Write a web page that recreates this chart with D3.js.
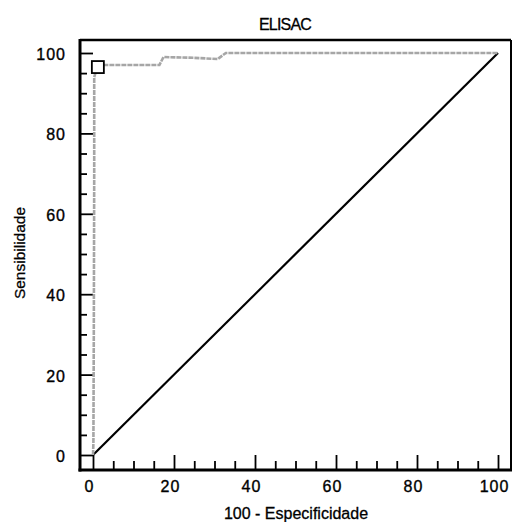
<!DOCTYPE html>
<html><head><meta charset="utf-8">
<script src="https://cdn.jsdelivr.net/npm/d3@7"></script>
<style>
body{margin:0;background:#fff;}
svg{display:block;font-family:"Liberation Sans",Arial,sans-serif;}
</style></head>
<body><svg id="c" width="514" height="522"></svg>
<script>
// ROC curve points (100 - Especificidade, Sensibilidade)
const rocFpr = [0, 0.1, 0.2, 0.3, 0.3, 1.2, 16.4, 17.4, 25, 30.8, 32.8, 60, 100];
const rocTpr = [0, 3, 30, 70, 94, 97, 97, 99, 98.8, 98.5, 100, 100, 100];
const criterion = {x: 1.2, y: 96.5};
const refLine = [[0,0],[100,100]];
const majorTicks = [0, 20, 40, 60, 80, 100];
const minorTicks = d3.range(0, 101, 5).filter(v => v % 20 !== 0);
const title = "ELISAC";
const xTitle = "100 - Especificidade";
const yTitle = "Sensibilidade";

const svg = d3.select("#c");
const x = d3.scaleLinear().domain([0,100]).range([93,498]);
const y = d3.scaleLinear().domain([0,100]).range([455,53]);
const L = 80, R = 511, T = 40, B = 470;
const FONT = "'Liberation Sans',Arial,sans-serif";

// frame
svg.append("line").attr("x1",L).attr("x2",R).attr("y1",T).attr("y2",T).attr("stroke","#000").attr("stroke-width",2.5);
svg.append("line").attr("x1",R).attr("x2",R).attr("y1",T).attr("y2",B).attr("stroke","#000").attr("stroke-width",2);

// axes
const gx = svg.append("g").attr("transform",`translate(0,${B})`);
gx.append("g").call(d3.axisBottom(x).tickValues(minorTicks).tickSize(-9).tickFormat(""))
  .call(g=>g.select(".domain").remove());
gx.append("g").call(d3.axisBottom(x).tickValues(majorTicks).tickSize(-15).tickPadding(11))
  .call(g=>g.select(".domain").remove());
gx.selectAll("line").attr("stroke","#000").attr("stroke-width",1.8);
gx.selectAll("text").attr("font-size","16px").attr("fill","#000").attr("dx","-4").attr("letter-spacing","1px")
  .attr("stroke","#000").attr("stroke-width",0.35).attr("font-family",FONT);

const gy = svg.append("g").attr("transform",`translate(${L},0)`);
gy.append("g").call(d3.axisLeft(y).tickValues(minorTicks).tickSize(-7).tickFormat(""))
  .call(g=>g.select(".domain").remove());
gy.append("g").call(d3.axisLeft(y).tickValues(majorTicks).tickSize(-13).tickPadding(14))
  .call(g=>g.select(".domain").remove());
gy.selectAll("line").attr("stroke","#000").attr("stroke-width",1.8);
gy.selectAll("text").attr("font-size","16px").attr("fill","#000").attr("dy","0.4em").attr("letter-spacing","1px")
  .attr("stroke","#000").attr("stroke-width",0.35).attr("font-family",FONT);

svg.append("line").attr("x1",L).attr("x2",L).attr("y1",T-1).attr("y2",B+1.5).attr("stroke","#000").attr("stroke-width",3);
svg.append("line").attr("x1",L-1.5).attr("x2",R+1).attr("y1",B).attr("y2",B).attr("stroke","#000").attr("stroke-width",3);

// reference diagonal
svg.append("path").datum(refLine)
  .attr("d", d3.line().x(d=>x(d[0])).y(d=>y(d[1])))
  .attr("fill","none").attr("stroke","#000").attr("stroke-width",2.2);

// ROC curve
const roc = rocFpr.map((v,i)=>[v, rocTpr[i]]);
svg.append("path").datum(roc)
  .attr("d", d3.line().x(d=>x(d[0])).y(d=>y(d[1])))
  .attr("fill","none").attr("stroke","#a6a6a6").attr("stroke-width",2.6)
  .attr("stroke-dasharray","5,1");

// criterion marker
svg.append("rect")
  .attr("x", x(criterion.x)-6).attr("y", y(criterion.y)-6)
  .attr("width",12).attr("height",12)
  .attr("fill","#fff").attr("stroke","#000").attr("stroke-width",1.8);

// titles
svg.append("text").attr("x",285).attr("y",30).attr("text-anchor","middle")
  .attr("font-size","16px").attr("letter-spacing","-0.8px").attr("fill","#000")
  .attr("stroke","#000").attr("stroke-width",0.3).text(title);
svg.append("text").attr("x",296).attr("y",519).attr("text-anchor","middle")
  .attr("font-size","16px").attr("fill","#000").attr("stroke","#000").attr("stroke-width",0.3).text(xTitle);
svg.append("text").attr("transform","translate(25,253) rotate(-90)").attr("text-anchor","middle")
  .attr("font-size","15.5px").attr("fill","#000").attr("stroke","#000").attr("stroke-width",0.3).text(yTitle);
</script></body></html>
